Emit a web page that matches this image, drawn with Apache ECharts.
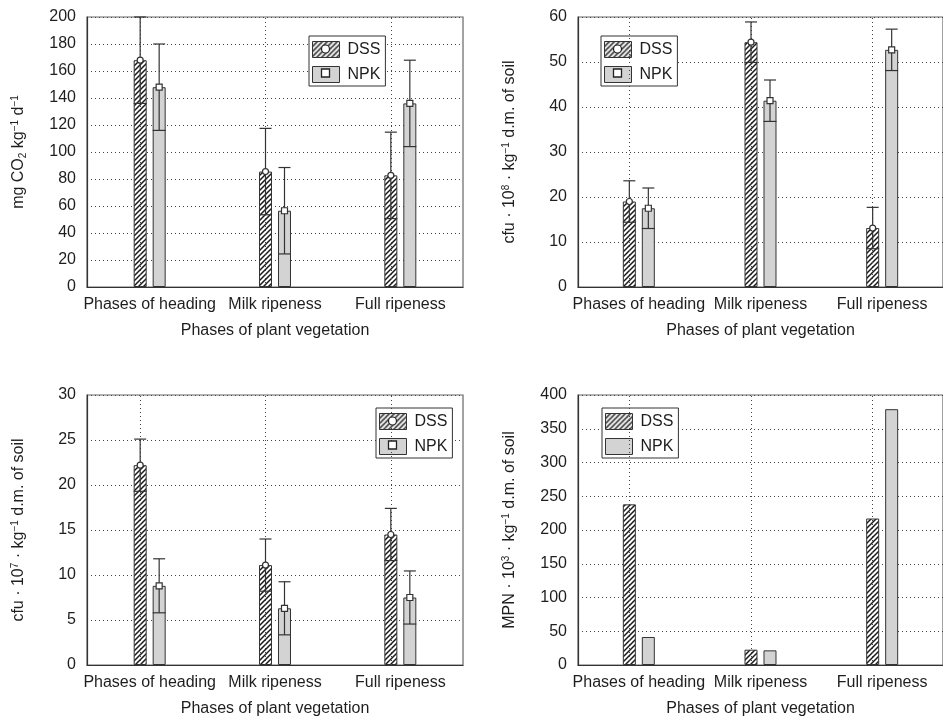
<!DOCTYPE html>
<html><head><meta charset="utf-8">
<script src="https://cdn.jsdelivr.net/npm/echarts@6/dist/echarts.min.js"></script>
<style>html,body{margin:0;padding:0;background:#fff}#c{width:943px;height:719px}</style>
</head><body><div id="c"></div>
<script>
// ---------- data ----------
const categories = ['Phases of heading', 'Milk ripeness', 'Full ripeness'];
const xAxisTitle = 'Phases of plant vegetation';
const seriesNames = ['DSS', 'NPK'];

// Panel 1 : mg CO2 kg-1 d-1
const co2DSS = [168, 85.5, 82.7];
const co2DSSsd = [32, 32, 32];
const co2NPK = [148, 56.5, 136];
const co2NPKsd = [32, 32, 32];

// Panel 2 : cfu 10^8
const cfu8DSS = [19.0, 54.4, 13.1];
const cfu8DSSsd = [4.6, 4.5, 4.6];
const cfu8NPK = [17.5, 41.4, 52.7];
const cfu8NPKsd = [4.5, 4.6, 4.6];

// Panel 3 : cfu 10^7
const cfu7DSS = [22.2, 11.1, 14.5];
const cfu7DSSsd = [2.9, 2.9, 2.9];
const cfu7NPK = [8.8, 6.3, 7.5];
const cfu7NPKsd = [3.0, 2.95, 2.95];

// Panel 4 : MPN 10^3
const mpnDSS = [238, 22.7, 217];
const mpnNPK = [41.5, 21.7, 379];

// y axis ranges [min, max, interval]
const yRanges = [[0, 200, 20], [0, 60, 10], [0, 30, 5], [0, 400, 50]];
const yTitles = [
  'mg CO{sub|2} kg{sup|\u22121} d{sup|\u22121}',
  'cfu \u00b7 10{sup|8} \u00b7 kg{sup|\u22121} d.m. of soil',
  'cfu \u00b7 10{sup|7} \u00b7 kg{sup|\u22121} d.m. of soil',
  'MPN \u00b7 10{sup|3} \u00b7 kg{sup|\u22121} d.m. of soil'
];

// ---------- styles ----------
const FONT = 'Liberation Sans, Arial, Helvetica, sans-serif';
const TXT = '#1e1e1e';
const grids = [
  {left: 87, top: 17, width: 376, height: 270},
  {left: 578, top: 17, width: 376, height: 270},
  {left: 87, top: 395, width: 376, height: 270},
  {left: 578, top: 395, width: 376, height: 270}
];
const legendPos = [[309, 36], [601, 36], [376, 408], [602, 408]];
const BAR_W = 13, OFFSET = 9.5;

function hatch() {
  const s = 5;
  const c = document.createElement('canvas');
  c.width = s; c.height = s;
  const g = c.getContext('2d');
  g.fillStyle = '#fff'; g.fillRect(0, 0, s, s);
  g.strokeStyle = '#1a1a1a'; g.lineWidth = 1.5;
  g.beginPath();
  g.moveTo(0, s); g.lineTo(s, 0);
  g.moveTo(-1, 1); g.lineTo(1, -1);
  g.moveTo(s - 1, s + 1); g.lineTo(s + 1, s - 1);
  g.stroke();
  return c;
}
const hatchFill = {image: hatch(), repeat: 'repeat'};
const dssStyle = {color: hatchFill, borderColor: '#333', borderWidth: 1};
const npkStyle = {color: '#d3d3d3', borderColor: '#333', borderWidth: 1};

function barSeries(name, data, gi, style, withLines) {
  const s = {
    type: 'bar', name: name, xAxisIndex: gi, yAxisIndex: gi,
    data: data, barWidth: BAR_W, barGap: '46%', itemStyle: style,
    silent: true, z: 2
  };
  if (withLines) {
    s.markLine = {
      symbol: 'none', silent: true, label: {show: false}, animation: false,
      lineStyle: {type: [1, 3], color: '#444', width: 1},
      data: categories.map(c => ({xAxis: c}))
    };
  }
  return s;
}

function errorSeries(name, means, sds, gi, offset, marker) {
  return {
    type: 'custom', name: name + ' error', xAxisIndex: gi, yAxisIndex: gi, z: 6, silent: true,
    data: means.map((m, i) => [i, m, sds[i]]),
    encode: {x: 0, y: 1},
    renderItem: function (params, api) {
      const i = api.value(0), m = api.value(1), s = api.value(2);
      const pm = api.coord([i, m]);
      const ph = api.coord([i, m + s]);
      const pl = api.coord([i, m - s]);
      const x = pm[0] + offset;
      const st = {stroke: '#333', lineWidth: 1.2};
      const mk = marker === 'circle'
        ? {type: 'circle', shape: {cx: x, cy: pm[1], r: 3}, style: {fill: '#fff', stroke: '#333', lineWidth: 1.2}}
        : {type: 'rect', shape: {x: x - 3, y: pm[1] - 3, width: 6, height: 6}, style: {fill: '#fff', stroke: '#333', lineWidth: 1.2}};
      return {type: 'group', children: [
        {type: 'line', shape: {x1: x, y1: pl[1], x2: x, y2: ph[1]}, style: st},
        {type: 'line', shape: {x1: x - 6, y1: ph[1], x2: x + 6, y2: ph[1]}, style: st},
        {type: 'line', shape: {x1: x - 6.5, y1: pl[1], x2: x + 6.5, y2: pl[1]}, style: st},
        mk
      ]};
    }
  };
}

const xAxes = grids.map((g, i) => ({
  type: 'category', gridIndex: i, data: categories,
  name: xAxisTitle, nameLocation: 'middle', nameGap: 36,
  nameTextStyle: {fontSize: 16, color: TXT, fontFamily: FONT},
  axisLine: {lineStyle: {color: '#333', width: 1.2}},
  axisTick: {show: false},
  axisLabel: {interval: 0, fontSize: 16, color: TXT, fontFamily: FONT, margin: 10},
  splitLine: {show: false}
}));

const yAxes = grids.map((g, i) => ({
  type: 'value', gridIndex: i,
  min: yRanges[i][0], max: yRanges[i][1], interval: yRanges[i][2],
  name: yTitles[i], nameLocation: 'middle', nameGap: 59,
  nameTextStyle: {
    fontSize: 16, color: TXT, fontFamily: FONT, lineHeight: 18,
    rich: {
      sup: {fontSize: 10, fontFamily: FONT, color: TXT, verticalAlign: 'top', lineHeight: 10},
      sub: {fontSize: 10, fontFamily: FONT, color: TXT, verticalAlign: 'bottom', lineHeight: 10}
    }
  },
  axisLine: {show: true, lineStyle: {color: '#333', width: 1.2}},
  axisTick: {show: false},
  axisLabel: {fontSize: 16, color: TXT, fontFamily: FONT, margin: 11},
  splitLine: {show: true, lineStyle: {type: [1, 3], color: '#444', width: 1}}
}));

const series = [
  barSeries('DSS', co2DSS, 0, dssStyle, true),
  barSeries('NPK', co2NPK, 0, npkStyle, false),
  errorSeries('DSS', co2DSS, co2DSSsd, 0, -OFFSET, 'circle'),
  errorSeries('NPK', co2NPK, co2NPKsd, 0, OFFSET, 'square'),

  barSeries('DSS', cfu8DSS, 1, dssStyle, true),
  barSeries('NPK', cfu8NPK, 1, npkStyle, false),
  errorSeries('DSS', cfu8DSS, cfu8DSSsd, 1, -OFFSET, 'circle'),
  errorSeries('NPK', cfu8NPK, cfu8NPKsd, 1, OFFSET, 'square'),

  barSeries('DSS', cfu7DSS, 2, dssStyle, true),
  barSeries('NPK', cfu7NPK, 2, npkStyle, false),
  errorSeries('DSS', cfu7DSS, cfu7DSSsd, 2, -OFFSET, 'circle'),
  errorSeries('NPK', cfu7NPK, cfu7NPKsd, 2, OFFSET, 'square'),

  barSeries('DSS', mpnDSS, 3, dssStyle, true),
  barSeries('NPK', mpnNPK, 3, npkStyle, false)
];

const legends = legendPos.map(p => ({
  orient: 'vertical', left: p[0], top: p[1],
  padding: [5, 5, 3, 3], itemGap: 8, itemWidth: 27, itemHeight: 16,
  backgroundColor: '#fff', borderColor: '#333', borderWidth: 1,
  icon: 'rect', selectedMode: false,
  textStyle: {fontSize: 16, color: TXT, fontFamily: FONT, lineHeight: 16, padding: [0, 0, 0, 3]},
  data: seriesNames.map(n => ({name: n, itemStyle: {borderColor: '#333', borderWidth: 1}}))
}));

// legend markers (circle / square inside swatches) for panels with error bars
const graphic = [];
[0, 1, 2].forEach(k => {
  const cx = legendPos[k][0] + 3 + 13.5;
  const cy1 = legendPos[k][1] + 5 + 8;
  const cy2 = cy1 + 24;
  graphic.push({type: 'circle', z: 100, shape: {cx: cx, cy: cy1, r: 4}, style: {fill: '#fff', stroke: '#222', lineWidth: 1.2}});
  graphic.push({type: 'rect', z: 100, shape: {x: cx - 4, y: cy2 - 4, width: 8, height: 8}, style: {fill: '#fff', stroke: '#222', lineWidth: 1.3}});
});

const chart = echarts.init(document.getElementById('c'), null, {renderer: 'canvas'});
chart.setOption({
  animation: false,
  backgroundColor: '#fff',
  grid: grids.map(g => Object.assign({show: true, borderColor: '#666', borderWidth: 1.2, backgroundColor: 'transparent', containLabel: false}, g)),
  xAxis: xAxes,
  yAxis: yAxes,
  legend: legends,
  series: series,
  graphic: graphic
});
</script>
</body></html>
